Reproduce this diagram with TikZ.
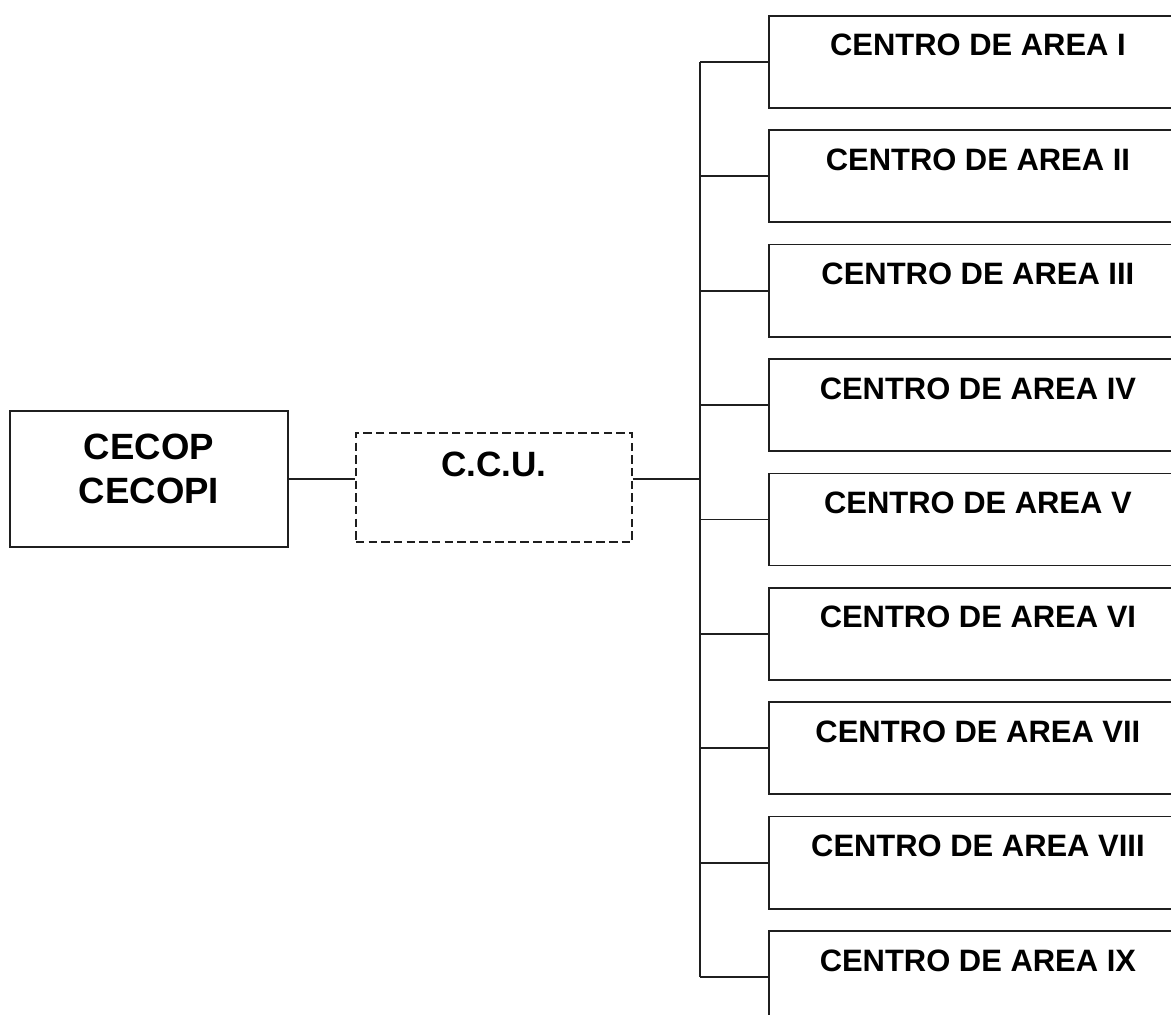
\documentclass[tikz,border=0pt]{standalone}
\usepackage{fontspec}
\setmainfont{Liberation Sans}
\usetikzlibrary{positioning}
\definecolor{lnCol}{rgb}{0.12, 0.12, 0.12}

\tikzset{
  orgbox/.style={draw=lnCol, line width=1.2pt, inner sep=0pt},
  areabox/.style={orgbox, anchor=north west, minimum width=10.45cm,
    minimum height=2.3cm, text height=0.45cm, text depth=0.75cm,
    font=\fontsize{22}{26}\selectfont\bfseries},
  link/.style={-, line width=1.2pt, lnCol}
}

\begin{document}
\begin{tikzpicture}[x=0.025cm, y=-0.025cm]
%      \draw [help lines] (0, 0) grid (1171, 1014);
      \useasboundingbox (0,0) rectangle (1171,1014);
      \clip (0,0) rectangle (1171,1014);
      \node [orgbox, minimum width=6.95cm, minimum height=3.4cm, align=center,
        text height=1.5cm, text depth=0.3cm,
        font=\fontsize{26}{31}\selectfont\bfseries] (cecop) at (149, 479) {CECOP\\CECOPI};
      \node [orgbox, dash pattern=on 6pt off 3pt, minimum width=6.9cm, minimum height=2.725cm,
        text height=0.5cm, text depth=1.075cm,
        font=\fontsize{25}{30}\selectfont\bfseries] (ccu) at (494, 487.5) {C.C.U.};
      \coordinate (bus) at (700, 479);
      %% nine area centres, 114.4 px apart
      \foreach \r [count=\i] in {I,II,III,IV,V,VI,VII,VIII,IX} {
        \node [areabox] (area\i) at (768, {15 + (\i-1)*114.4}) {CENTRO DE AREA \r};
        \draw [link] (area\i.west) -- (area\i.west -| bus);
      }
      \draw [link] (area1.west -| bus) -- (area9.west -| bus);
      \draw [link] (cecop.east) -- (ccu.west |- cecop.east);
      \draw [link] (ccu.east |- cecop.east) -- (bus);
    \end{tikzpicture}
\end{document}
